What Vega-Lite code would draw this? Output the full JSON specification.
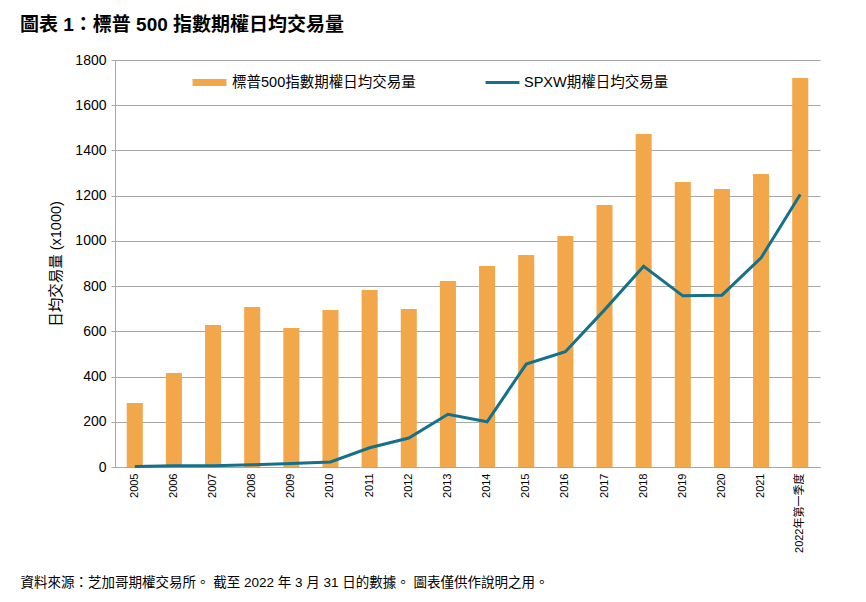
{
  "$schema": "https://vega.github.io/schema/vega-lite/v6.json",
  "autosize": "none",
  "width": 705,
  "height": 407,
  "padding": {"left": 115, "top": 60, "right": 46, "bottom": 135},
  "background": "white",
  "config": {
    "font": "Liberation Sans, Noto Sans CJK TC",
    "view": {"stroke": null}
  },
  "title": {
    "text": "圖表 1：標普 500 指數期權日均交易量",
    "anchor": "start",
    "frame": "group",
    "dx": -95,
    "dy": 26,
    "offset": 29,
    "baseline": "alphabetic",
    "fontSize": 19,
    "fontWeight": "bold",
    "color": "#000000"
  },
  "data": {
    "values": [
      {"year": "2005", "spx": 283, "spxw": 2},
      {"year": "2006", "spx": 416, "spxw": 5},
      {"year": "2007", "spx": 628, "spxw": 5},
      {"year": "2008", "spx": 708, "spxw": 10},
      {"year": "2009", "spx": 615, "spxw": 15},
      {"year": "2010", "spx": 694, "spxw": 22},
      {"year": "2011", "spx": 783, "spxw": 85},
      {"year": "2012", "spx": 699, "spxw": 128},
      {"year": "2013", "spx": 823, "spxw": 233},
      {"year": "2014", "spx": 889, "spxw": 200},
      {"year": "2015", "spx": 938, "spxw": 455},
      {"year": "2016", "spx": 1022, "spxw": 510},
      {"year": "2017", "spx": 1159, "spxw": 695},
      {"year": "2018", "spx": 1473, "spxw": 888},
      {"year": "2019", "spx": 1260, "spxw": 757},
      {"year": "2020", "spx": 1230, "spxw": 760},
      {"year": "2021", "spx": 1296, "spxw": 925},
      {"year": "2022年第一季度", "spx": 1720, "spxw": 1205}
    ]
  },
  "encoding": {
    "x": {
      "field": "year",
      "type": "nominal",
      "sort": null,
      "scale": {"paddingInner": 0.59, "paddingOuter": 0.3},
      "axis": {
        "title": "資料來源：芝加哥期權交易所。 截至 2022 年 3 月 31 日的數據。 圖表僅供作說明之用。",
        "titleAnchor": "start",
        "titleAlign": "left",
        "titleX": -95,
        "titleY": 119,
        "titleBaseline": "alphabetic",
        "titleFontSize": 13.5,
        "titleFontWeight": "normal",
        "titleColor": "#000000",
        "labelAngle": 270,
        "labelFontSize": 11,
        "labelColor": "#000000",
        "labelPadding": 6,
        "ticks": false,
        "domainColor": "#A6A6A6",
        "grid": false
      }
    }
  },
  "layer": [
    {
      "mark": {"type": "bar"},
      "encoding": {
        "y": {
          "field": "spx",
          "type": "quantitative",
          "scale": {"domain": [0, 1800]},
          "axis": {
            "title": "日均交易量 (x1000)",
            "titleFontSize": 14.5,
            "titleFontWeight": "normal",
            "titleColor": "#000000",
            "titlePadding": 11,
            "values": [0, 200, 400, 600, 800, 1000, 1200, 1400, 1600, 1800],
            "format": "d",
            "labelFontSize": 14,
            "labelColor": "#000000",
            "labelPadding": 5,
            "tickSize": 4,
            "tickColor": "#A6A6A6",
            "domainColor": "#A6A6A6",
            "gridColor": "#A6A6A6",
            "gridWidth": 1
          }
        },
        "color": {
          "datum": "標普500指數期權日均交易量",
          "type": "nominal",
          "scale": {
            "domain": ["標普500指數期權日均交易量"],
            "range": ["#F2A84A"]
          },
          "legend": {
            "title": null,
            "orient": "none",
            "direction": "horizontal",
            "legendX": 74,
            "legendY": 2,
            "labelFontSize": 14.5,
            "labelColor": "#000000",
            "labelLimit": 0,
            "symbolType": "stroke",
            "symbolSize": 1150,
            "symbolStrokeWidth": 7,
            "symbolStrokeColor": "#F2A84A",
            "labelOffset": 2
          }
        }
      }
    },
    {
      "mark": {"type": "line", "strokeWidth": 3},
      "encoding": {
        "y": {"field": "spxw", "type": "quantitative"},
        "stroke": {
          "datum": "SPXW期權日均交易量",
          "type": "nominal",
          "scale": {
            "domain": ["SPXW期權日均交易量"],
            "range": ["#15708A"]
          },
          "legend": {
            "title": null,
            "orient": "none",
            "direction": "horizontal",
            "legendX": 369,
            "legendY": 4,
            "labelFontSize": 14.5,
            "labelColor": "#000000",
            "labelLimit": 0,
            "symbolType": "stroke",
            "symbolSize": 1150,
            "symbolStrokeWidth": 3,
            "labelOffset": 3
          }
        }
      }
    }
  ]
}
